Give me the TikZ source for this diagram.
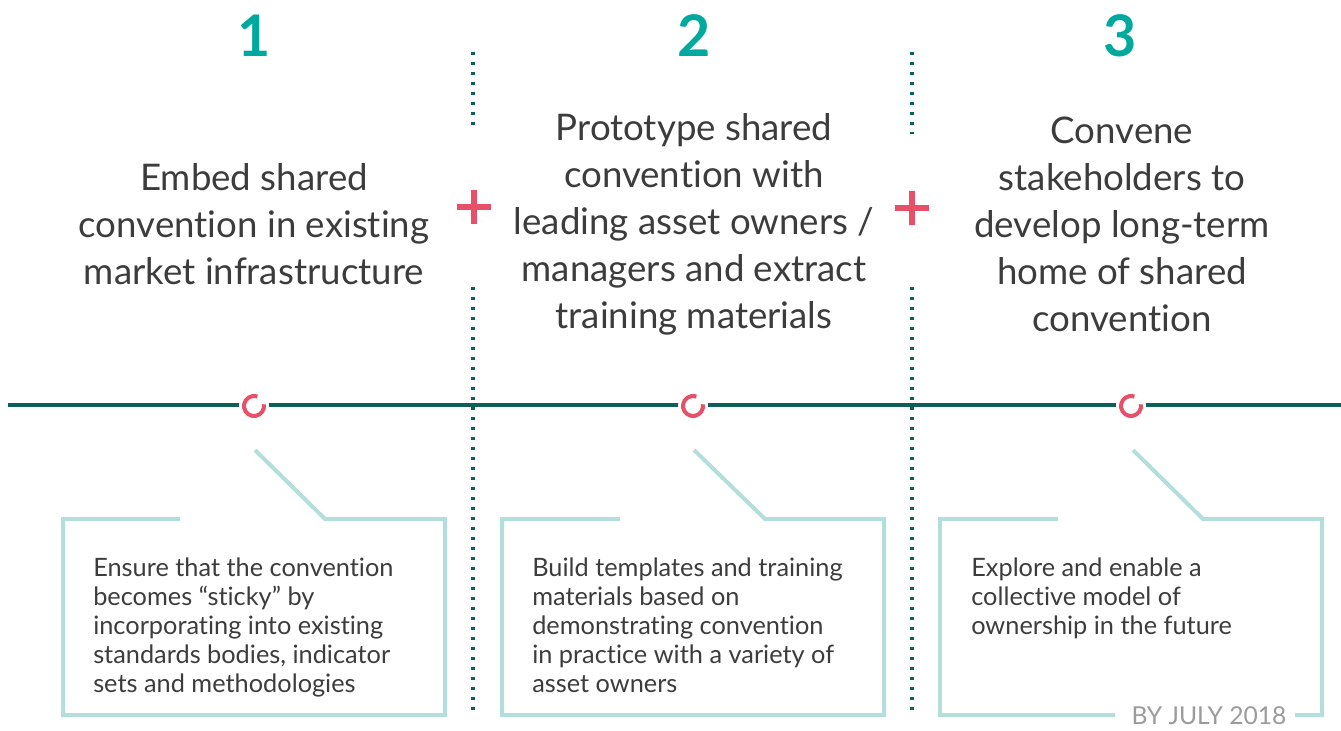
\documentclass[tikz,border=0pt]{standalone}
\usepackage{fontspec}
\setmainfont{Lato}[Ligatures=CommonOff]
\usetikzlibrary{positioning,calc}

\definecolor{numteal}{HTML}{00A99D}
\definecolor{lineteal}{HTML}{0E5E5A}
\definecolor{markpink}{HTML}{E8506A}
\definecolor{boxteal}{HTML}{B3DEDC}
\definecolor{txtgrey}{HTML}{3C3C3C}
\definecolor{dategrey}{HTML}{9B9B9B}

\tikzset{
  stepnum/.style={font=\fontsize{43}{43}\selectfont\bfseries, text=numteal},
  steptitle/.style={font=\fontsize{27.5}{35.25}\selectfont, text=txtgrey, align=center},
  stepnote/.style={font=\fontsize{19}{21.75}\selectfont, text=txtgrey, align=left,
    anchor=north west, inner sep=0pt},
  divider/.style={lineteal, line width=2.6pt, dash pattern=on 2.6pt off 4.9pt},
  timeline/.style={lineteal, line width=3pt},
  milestone/.style={markpink, line width=3pt},
  plusmark/.style={markpink, line width=5.2pt},
  notebox/.style={boxteal, line width=3pt},
}

\begin{document}
\begin{tikzpicture}[x=0.75pt,y=-0.75pt]
  \useasboundingbox (0,0) rectangle (1341,731);

  % Numeros
  \node[stepnum] (n1) at (254,36) {1};
  \node[stepnum] (n2) at (694,36) {2};
  \node[stepnum] (n3) at (1120,36) {3};

  % Titulos
  \node[steptitle] (t1) at (254,224) {Embed shared\\convention in existing\\market infrastructure};
  \node[steptitle] (t2) at (694,224) {Prototype shared\\convention with\\leading asset owners /\\managers and extract\\training materials};
  \node[steptitle] (t3) at (1122,224) {Convene\\stakeholders to\\develop long-term\\home of shared\\convention};

  % Separadores
  \draw[divider] (473,52) -- (473,128);
  \draw[divider] (473,287) -- (473,712);
  \draw[divider] (912,52) -- (912,134);
  \draw[divider] (912,287) -- (912,712);

  % Signos +
  \coordinate (p1) at (474,207);
  \coordinate (p2) at (912,208);
  \foreach \p in {p1,p2}
    \draw[plusmark] (\p) ++(-17,0) -- ++(34,0) (\p) ++(0,-17) -- ++(0,34);

  % Linea de tiempo
  \draw[timeline] (8,405) -- (1341,405);
  \coordinate (m1) at (254,406);
  \coordinate (m2) at (693,406);
  \coordinate (m3) at (1131,406);
  \foreach \m in {m1,m2,m3} {
    \fill[white] (\m) circle[radius=15];
    \draw[milestone] (\m) ++(-10:10) arc[start angle=-10, end angle=290, radius=10];
  }

  % Cajas
  \coordinate (c1) at (255,450);
  \coordinate (c2) at (694,450);
  \coordinate (c3) at (1133,450);
  \coordinate (j1) at (325,519);
  \coordinate (j2) at (765,519);
  \coordinate (j3) at (1203,519);
  \coordinate (k1) at (180,519);
  \coordinate (k2) at (620,519);
  \coordinate (k3) at (1058,519);

  \node[stepnote] (s1) at (93,558) {Ensure that the convention\\becomes “sticky” by\\incorporating into existing\\standards bodies, indicator\\sets and methodologies};
  \node[stepnote] (s2) at (532,558) {Build templates and training\\materials based on\\demonstrating convention\\in practice with a variety of\\asset owners};
  \node[stepnote] (s3) at (971,558) {Explore and enable a\\collective model of\\ownership in the future};

  \node[font=\fontsize{18.5}{18.5}\selectfont, text=dategrey, inner sep=0pt] (d3) at (1209,716) {BY JULY 2018};

  \draw[notebox] (k1) -- (63,519) -- (63,715) -- (445,715) -- (445,519) -- (j1) -- (c1);
  \draw[notebox] (k2) -- (502,519) -- (502,715) -- (884,715) -- (884,519) -- (j2) -- (c2);
  \draw[notebox] (k3) -- (940,519) -- (940,715) -- (1115,715);
  \draw[notebox] (1295,715) -- (1322,715) -- (1322,519) -- (j3) -- (c3);
\end{tikzpicture}
\end{document}
